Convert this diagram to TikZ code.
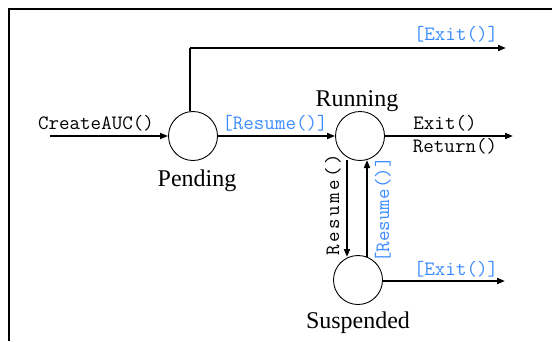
\documentclass[tikz,border=0pt]{standalone}
\usepackage{fontspec}
\setmainfont{Liberation Serif}
\newfontfamily\monowide[LetterSpace=12]{Latin Modern Mono}
\usetikzlibrary{arrows.meta}
\definecolor{guardblue}{RGB}{60,140,255}
\begin{document}
\begin{tikzpicture}[x=1pt,y=-1pt,
  state/.style={circle,draw,line width=0.9pt,minimum size=49pt,inner sep=0pt},
  trans/.style={line width=1.8pt,-{Triangle[length=8pt,width=6pt]}},
  evt/.style={font=\fontsize{20.4}{21}\selectfont\ttfamily,inner sep=0pt,anchor=base},
  guard/.style={evt,text=guardblue},
  title/.style={font=\fontsize{24}{26}\selectfont,inner sep=0pt,anchor=base}]
  \useasboundingbox (0,0) rectangle (552,341);
  % frame
  \draw[line width=2pt] (9,341) -- (9,9) -- (552,9);

  % states
  \node[state] (pend) at (193,136) {};
  \node[state] (run)  at (360,136) {};
  \node[state] (susp) at (358,280) {};
  \node[title] (tpend) at (197,186) {Pending};
  \node[title] (trun)  at (357,106) {Running};
  \node[title] (tsusp) at (358,328) {Suspended};

  % free ends
  \coordinate (start) at (50,136);
  \coordinate (corner) at (190,48);
  \coordinate (exitA) at (506,48);
  \coordinate (exitB) at (513,136);
  \coordinate (exitC) at (505,281);

  % transitions
  \draw[trans] (start) -- (pend);
  \draw[line width=1.8pt] (pend.north -| corner) -- (corner);
  \draw[trans] (corner) -- (exitA);
  \draw[trans] (pend) -- (run);
  \draw[trans] (run.east) -- (exitB);
  \draw[trans] (run.south -| 347,0) ++(0,-1) -- (347,257);
  \draw[trans] (367,257) -- (367,160);
  \draw[trans] (susp.east |- exitC) -- (exitC);

  % event labels
  \node[evt] (lcreate) at (96,129) {CreateAUC()};
  \node[guard] (lres) at (275,129) {[Resume()]};
  \node[guard] (lexitA) at (456,40) {[Exit()]};
  \node[evt] (lexit) at (445,129) {Exit()};
  \node[evt] (lret) at (455,152) {Return()};
  \node[guard] (lexitC) at (456,275) {[Exit()]};
  \node[evt,rotate=90] (lsusp) at (339,205) {\monowide Resume()};
  \node[guard,rotate=90] (lback) at (389,210) {[Resume()]};
\end{tikzpicture}
\end{document}
